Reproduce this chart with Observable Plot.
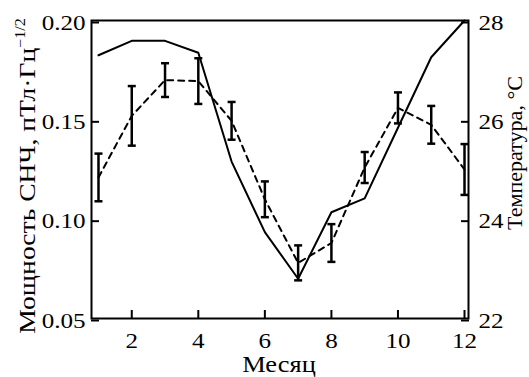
<!DOCTYPE html>
<html><head><meta charset="utf-8">
<script src="https://cdn.jsdelivr.net/npm/d3@7"></script>
<script src="https://cdn.jsdelivr.net/npm/@observablehq/plot@0.6"></script>
<style>body{margin:0;background:#fff}</style>
</head><body><div id="chart"></div>
<script>
const months = [1,2,3,4,5,6,7,8,9,10,11,12];
const power = [0.121,0.152,0.170,0.1695,0.1495,0.110,0.078,0.088,0.126,0.156,0.1475,0.125];
const powerErr = [0.012,0.015,0.0085,0.0115,0.0095,0.009,0.0088,0.0095,0.0078,0.0078,0.0095,0.0128];
const temperature = [27.3,27.59,27.59,27.35,25.16,23.74,22.8,24.14,24.42,25.84,27.26,28.0];
const xTicks = [2,4,6,8,10,12];
const powerTicks = [0.05,0.10,0.15,0.20];
const tempTicks = [22,24,26,28];
const xLabel = "Месяц";
const yLabel = "Мощность СНЧ, пТл·Гц";
const yLabelSup = "−1/2";
const y2Label = "Температура, °C";

const pMin = 0.05, pMax = 0.20, tMin = 22, tMax = 28;
const tToY = t => pMin + (t - tMin) / (tMax - tMin) * (pMax - pMin);
const yToT = y => tMin + (y - pMin) / (pMax - pMin) * (tMax - tMin);

const powerRows = months.map((m, i) => ({month: m, p: power[i], lo: power[i] - powerErr[i], hi: power[i] + powerErr[i]}));
const tempRows = months.map((m, i) => ({month: m, ty: tToY(temperature[i])}));

const capSymbol = {draw(ctx, size) { const r = Math.sqrt(size / Math.PI); ctx.moveTo(-r, 0); ctx.lineTo(r, 0); }};
const font = "'Liberation Serif', 'Times New Roman', serif";

const chart = Plot.plot({
  width: 529, height: 377,
  marginLeft: 91, marginRight: 61, marginTop: 20, marginBottom: 59,
  style: {fontFamily: font, fontSize: "22px", background: "white", color: "black"},
  x: {domain: [0.79, 12.12]},
  y: {domain: [pMin, pMax]},
  marks: [
    Plot.line(tempRows, {x: "month", y: "ty", stroke: "black", strokeWidth: 2}),
    Plot.line(powerRows, {x: "month", y: "p", stroke: "black", strokeWidth: 2, strokeDasharray: "6,5"}),
    Plot.ruleX(powerRows, {x: "month", y1: "lo", y2: "hi", stroke: "black", strokeWidth: 2.5}),
    Plot.dot(powerRows, {x: "month", y: "lo", symbol: capSymbol, r: 4, stroke: "black", fill: "none", strokeWidth: 2.5}),
    Plot.dot(powerRows, {x: "month", y: "hi", symbol: capSymbol, r: 4, stroke: "black", fill: "none", strokeWidth: 2.5}),
    Plot.frame({stroke: "black", strokeWidth: 2}),
    Plot.axisY({ticks: powerTicks, anchor: "left", tickSize: -8, tickPadding: 14, strokeWidth: 2, tickFormat: d => d.toFixed(2), label: null, dy: 2}),
    Plot.axisY({ticks: tempTicks.map(tToY), anchor: "right", tickSize: -8, tickPadding: 18, strokeWidth: 2, tickFormat: y => String(Math.round(yToT(y))), label: null, dy: 2}),
    Plot.axisX({ticks: xTicks, anchor: "bottom", tickSize: -8, tickPadding: 22, strokeWidth: 2, tickFormat: d => String(d), label: null})
  ]
});
document.getElementById("chart").appendChild(chart);

const svg = d3.select(chart);
svg.selectAll("g[aria-label$='tick label'] text").each(function() {
  const t = this.getAttribute("transform") || "";
  this.setAttribute("transform", t + " scale(1.14,1)");
});

const lt = svg.append("text")
  .attr("transform", "translate(35,176) rotate(-90) scale(1.15,1)")
  .attr("text-anchor", "middle")
  .attr("font-family", font).attr("font-size", 24).attr("fill", "black");
lt.append("tspan").text(yLabel);
lt.append("tspan").attr("font-size", 14).attr("dy", -10).text(yLabelSup);

svg.append("text")
  .attr("transform", "translate(522,153) rotate(-90) scale(1.05,1)")
  .attr("text-anchor", "middle")
  .attr("font-family", font).attr("font-size", 21).attr("fill", "black")
  .text(y2Label);

svg.append("text")
  .attr("transform", "translate(279,372) scale(1.15,1)")
  .attr("text-anchor", "middle")
  .attr("font-family", font).attr("font-size", 23).attr("fill", "black")
  .text(xLabel);
</script>
</body></html>
